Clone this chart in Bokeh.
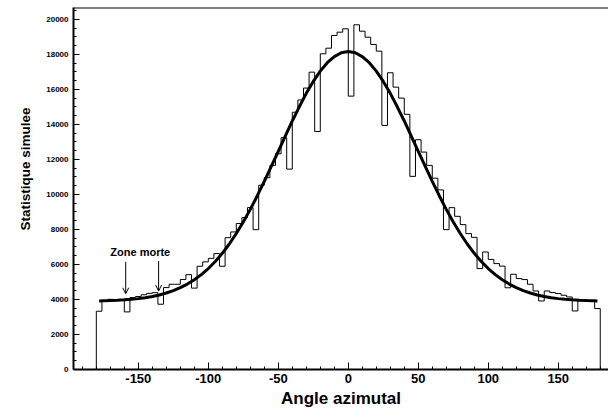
from bokeh.plotting import figure
from bokeh.models import Range1d, SingleIntervalTicker, Span, Arrow, OpenHead, Label, Title
from bokeh.embed import file_html
from bokeh.resources import INLINE

# ---- data ----
bin_edges = list(range(-180, 181, 4))
counts = [
    3330, 3920, 4010, 3990, 3990, 3290, 4110, 4170, 4270, 4350,
    4390, 3730, 4680, 4870, 4870, 5140, 5420, 4650, 5900, 6150,
    6350, 6620, 5900, 7530, 7860, 8340, 8680, 9250, 7990, 10530,
    10960, 11660, 12330, 13245, 11450, 14700, 15400, 16080, 16990, 13600,
    18040, 18360, 19085, 19274, 19467, 15620, 19696, 19330, 18988, 18572,
    18190, 13947, 16955, 16133, 15506, 14580, 11035, 13131, 12423, 11663,
    10930, 10260, 7993, 9248, 8752, 8278, 7764, 7550, 5766, 6714,
    6290, 6051, 5906, 4670, 5441, 5195, 5138, 4870, 4487, 3916,
    4487, 4396, 4339, 4242, 4145, 3345, 3956, 3956, 3937, 3482,
]
curve_x = [-178, -175, -170, -165, -160, -155, -150, -145, -140, -135,
           -130, -125, -120, -115, -110, -105, -100, -95, -90, -85,
           -80, -75, -70, -65, -60, -55, -50, -45, -40, -35,
           -30, -25, -20, -15, -10, -5, 0, 5, 10, 15,
           20, 25, 30, 35, 40, 45, 50, 55, 60, 65,
           70, 75, 80, 85, 90, 95, 100, 105, 110, 115,
           120, 125, 130, 135, 140, 145, 150, 155, 160, 165,
           170, 175, 178]
curve_y = [3920, 3930, 3940, 3955, 3980, 4010, 4050, 4100, 4170, 4260,
           4370, 4510, 4680, 4880, 5130, 5420, 5770, 6170, 6640, 7170,
           7770, 8430, 9150, 9930, 10750, 11600, 12470, 13340, 14200, 15010,
           15780, 16460, 17050, 17530, 17880, 18100, 18170, 18100, 17880, 17530,
           17050, 16460, 15780, 15010, 14200, 13340, 12470, 11600, 10750, 9930,
           9150, 8430, 7770, 7170, 6640, 6170, 5770, 5420, 5130, 4880,
           4680, 4510, 4370, 4260, 4170, 4100, 4050, 4010, 3980, 3955,
           3940, 3930, 3920]
x_tick_labels = [-150, -100, -50, 0, 50, 100, 150]
x_title = "Angle azimutal"
y_title = "Statistique simulee"
annot_text = "Zone morte"
annot_pos = (-170, 6700)
arrow_x = [-159, -135.5]
arrow_y_start = [6150, 6200]
arrow_y_end = [4330, 4480]

X_MIN, X_MAX = -196.3, 185.9
Y_MIN, Y_MAX = 0, 20684
FONT = "Liberation Sans"

p = figure(width=608, height=411, output_backend="svg", toolbar_location=None,
           x_range=Range1d(X_MIN, X_MAX), y_range=Range1d(Y_MIN, Y_MAX),
           min_border_left=73, min_border_right=0, min_border_top=7,
           min_border_bottom=42)
p.outline_line_color = None
p.grid.visible = False
p.background_fill_color = "white"
p.border_fill_color = "white"

# histogram outline (step)
sx = [bin_edges[0]]
sy = [0]
for i, c in enumerate(counts):
    sx += [bin_edges[i], bin_edges[i + 1]]
    sy += [c, c]
sx.append(bin_edges[-1])
sy.append(0)
p.line(sx, sy, line_color="black", line_width=1)

# fitted curve
p.line(curve_x, curve_y, line_color="black", line_width=3)

# top frame line
p.add_layout(Span(location=Y_MAX, dimension="width", line_color="black", line_width=2))

# annotation
p.add_layout(Label(x=annot_pos[0], y=annot_pos[1], text=annot_text,
                   text_font=FONT, text_font_size="11px", text_font_style="bold",
                   text_baseline="middle", text_align="left", text_color="black"))
for ax, ys, ye in zip(arrow_x, arrow_y_start, arrow_y_end):
    p.add_layout(Arrow(end=OpenHead(size=6, line_width=1, line_color="black"),
                       x_start=ax, y_start=ys, x_end=ax, y_end=ye,
                       line_width=1, line_color="black"))

# axes
xa = p.xaxis[0]
xa.ticker = SingleIntervalTicker(interval=50, num_minor_ticks=5)
xa.major_label_overrides = {t: str(t) for t in x_tick_labels}
xa.axis_line_width = 2
xa.axis_line_color = "black"
xa.major_tick_in = 7
xa.major_tick_out = 0
xa.minor_tick_in = 3
xa.minor_tick_out = 0
xa.major_tick_line_color = "black"
xa.minor_tick_line_color = "black"
xa.major_label_text_font = FONT
xa.major_label_text_font_size = "13px"
xa.major_label_text_font_style = "bold"
xa.major_label_text_color = "black"
xa.major_label_standoff = 4
xa.axis_label = x_title
xa.axis_label_text_font = FONT
xa.axis_label_text_font_size = "17px"
xa.axis_label_text_font_style = "bold"
xa.axis_label_text_color = "black"
xa.axis_label_standoff = 3

ya = p.yaxis[0]
ya.ticker = SingleIntervalTicker(interval=2000, num_minor_ticks=4)
ya.axis_line_width = 2
ya.axis_line_color = "black"
ya.major_tick_in = 6
ya.major_tick_out = 0
ya.minor_tick_in = 3
ya.minor_tick_out = 0
ya.major_tick_line_color = "black"
ya.minor_tick_line_color = "black"
ya.major_label_text_font = FONT
ya.major_label_text_font_size = "8px"
ya.major_label_text_font_style = "bold"
ya.major_label_text_color = "black"
ya.major_label_standoff = 5

# y title as a side title, shifted up as in the original
p.add_layout(Title(text=y_title, align="left", offset=139,
                   text_font=FONT, text_font_size="13.5px", text_font_style="bold",
                   text_color="black", standoff=22), "left")

open("out.html", "w").write(file_html(p, INLINE))
